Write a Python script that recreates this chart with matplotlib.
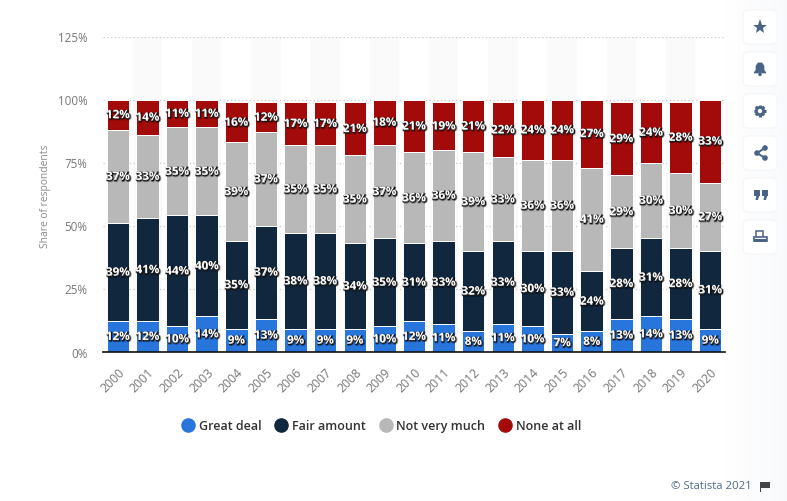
import numpy as np
import matplotlib
matplotlib.use("Agg")
import matplotlib.pyplot as plt
import matplotlib.patheffects as pe
from matplotlib.lines import Line2D
from matplotlib.patches import FancyBboxPatch, Rectangle, Polygon, Circle

years = [str(y) for y in range(2000, 2021)]
great_deal = [12, 12, 10, 14, 9, 13, 9, 9, 9, 10, 12, 11, 8, 11, 10, 7, 8, 13, 14, 13, 9]
fair_amount = [39, 41, 44, 40, 35, 37, 38, 38, 34, 35, 31, 33, 32, 33, 30, 33, 24, 28, 31, 28, 31]
not_very_much = [37, 33, 35, 35, 39, 37, 35, 35, 35, 37, 36, 36, 39, 33, 36, 36, 41, 29, 30, 30, 27]
none_at_all = [12, 14, 11, 11, 16, 12, 17, 17, 21, 18, 21, 19, 21, 22, 24, 24, 27, 29, 24, 28, 33]
series_names = ["Great deal", "Fair amount", "Not very much", "None at all"]
series_values = [great_deal, fair_amount, not_very_much, none_at_all]
colors = ["#2875dc", "#10273e", "#b8b8b8", "#a30a0a"]
y_ticks = [0, 25, 50, 75, 100, 125]

W, H = 787, 502
plt.rcParams["font.family"] = ["Open Sans", "DejaVu Sans"]
fig = plt.figure(figsize=(W / 100, H / 100), dpi=100, facecolor="white")

# page overlay in pixel coordinates (background tint and side buttons)
page = fig.add_axes([0, 0, 1, 1], zorder=0)
page.set_xlim(0, W); page.set_ylim(H, 0); page.axis("off")
grad = np.ones((1, W, 3))
t = np.clip((np.arange(W) - 725) / 62, 0, 1)[None, :, None]
grad = grad * (1 - t) + np.array([0.972, 0.978, 0.988])[None, None, :] * t
page.imshow(grad, extent=[0, W, H, 0], aspect="auto", zorder=0)
icon = "#4a6488"
for top in [11, 53, 95, 137, 179, 221]:
    page.add_patch(FancyBboxPatch((746, top + 3), 28, 28, boxstyle="round,pad=3,rounding_size=5",
                                  fc="white", ec="#f3f4f7", lw=0.6, zorder=2))
page.plot([760], [28], marker="*", ms=11, color=icon, mew=0, zorder=3)
page.add_patch(Polygon([(754, 74), (756, 71), (756, 67), (758, 64), (762, 64), (764, 67), (764, 71), (766, 74)],
                       fc=icon, ec=icon, lw=0.5, zorder=3))
page.add_patch(Circle((760, 75.5), 1.7, fc=icon, ec="none", zorder=3))
for a in np.arange(8) * np.pi / 4:
    page.plot([760 + 3 * np.cos(a), 760 + 6 * np.cos(a)], [112 + 3 * np.sin(a), 112 + 6 * np.sin(a)],
              color=icon, lw=2.2, solid_capstyle="butt", zorder=3)
page.add_patch(Circle((760, 112), 3.6, fc="white", ec=icon, lw=2, zorder=4))
page.plot([765, 757, 765], [149, 154, 159], color=icon, lw=1.4, zorder=3)
for cx, cy in [(765, 149), (757, 154), (765, 159)]:
    page.add_patch(Circle((cx, cy), 2.8, fc=icon, ec="none", zorder=3))
for x0 in [754, 762]:
    page.add_patch(Rectangle((x0, 191), 5.5, 5.5, fc=icon, ec="none", zorder=3))
    page.add_patch(Polygon([(x0 + 2.5, 196), (x0 + 5.5, 196), (x0 + 4, 201), (x0 + 1.5, 201)], fc=icon, ec="none", zorder=3))
page.add_patch(Rectangle((756, 232), 7, 8, fc="white", ec=icon, lw=1.1, zorder=3))
page.add_patch(Rectangle((754, 238), 13, 4, fc="white", ec=icon, lw=1.2, zorder=4))
page.add_patch(Rectangle((754, 240), 13, 3, fc=icon, ec="none", zorder=5))

# chart
ax = fig.add_axes([103 / W, 1 - 352.5 / H, 622 / W, 315 / H], zorder=1)
ax.patch.set_alpha(0)
x = np.arange(len(years))
for i in x[1::2]:
    ax.axvspan(i - 0.5, i + 0.5, color="#fafafa", lw=0, zorder=0)
bottom = np.zeros(len(years))
outline = [pe.Stroke(linewidth=1.9, foreground="#000000", alpha=0.3, offset=(0.7, -0.7)),
           pe.Stroke(linewidth=0.8, foreground="#111111", offset=(0.6, -0.6)),
           pe.Normal()]
for name, vals, col in zip(series_names, series_values, colors):
    vals = np.array(vals)
    ax.bar(x, vals, 0.76, bottom=bottom, color=col, edgecolor="white", linewidth=0.7, zorder=2, label=name)
    for xi, b, v in zip(x, bottom, vals):
        ax.text(xi, b + v / 2, f"{v}%", ha="center", va="center", color="white", fontsize=8.4,
                fontweight="bold", path_effects=outline, zorder=3)
    bottom += vals

ax.set_xlim(-0.5, len(years) - 0.5)
ax.set_ylim(0, 125)
ax.set_yticks(y_ticks)
ax.set_yticklabels([f"{v}%" for v in y_ticks], fontsize=8.4, color="#777777")
ax.set_xticks(x)
ax.set_xticklabels(years, rotation=45, ha="right", rotation_mode="anchor", fontsize=8.8, color="#777777")
ax.tick_params(axis="both", length=0)
ax.tick_params(axis="y", pad=11)
ax.tick_params(axis="x", pad=10)
ax.grid(axis="y", color="#c8c8c8", linestyle=(0, (1, 2)), linewidth=0.9, zorder=1)
ax.set_axisbelow(True)
for s in ["top", "left", "right"]:
    ax.spines[s].set_visible(False)
ax.spines["bottom"].set_color("#111111")
ax.spines["bottom"].set_linewidth(1.2)
ax.set_ylabel("Share of respondents", fontsize=7.4, color="#888888")
ax.yaxis.set_label_coords((51 - 103) / 622, (352.5 - 196) / 315)

handles = [Line2D([], [], ls="none", marker="o", ms=10.5, mew=0, color=c) for c in colors]
fig.legend(handles, series_names, ncol=4, loc="center", bbox_to_anchor=(381 / W, 1 - 427 / H), frameon=False,
           prop={"size": 9, "weight": "semibold"}, labelcolor="#333333", handletextpad=0.25,
           columnspacing=1.0, handlelength=1.2, borderpad=0)

fig.text(752 / W, 1 - 487 / H, "© Statista 2021", ha="right", va="center", fontsize=8.2, color="#4f6a8f")
page.add_patch(Rectangle((760, 483), 1.2, 10, fc="#444444", ec="none", zorder=3))
page.add_patch(Rectangle((761, 483), 9, 6, fc="#444444", ec="none", zorder=3))

fig.savefig("out.png", dpi=100)
